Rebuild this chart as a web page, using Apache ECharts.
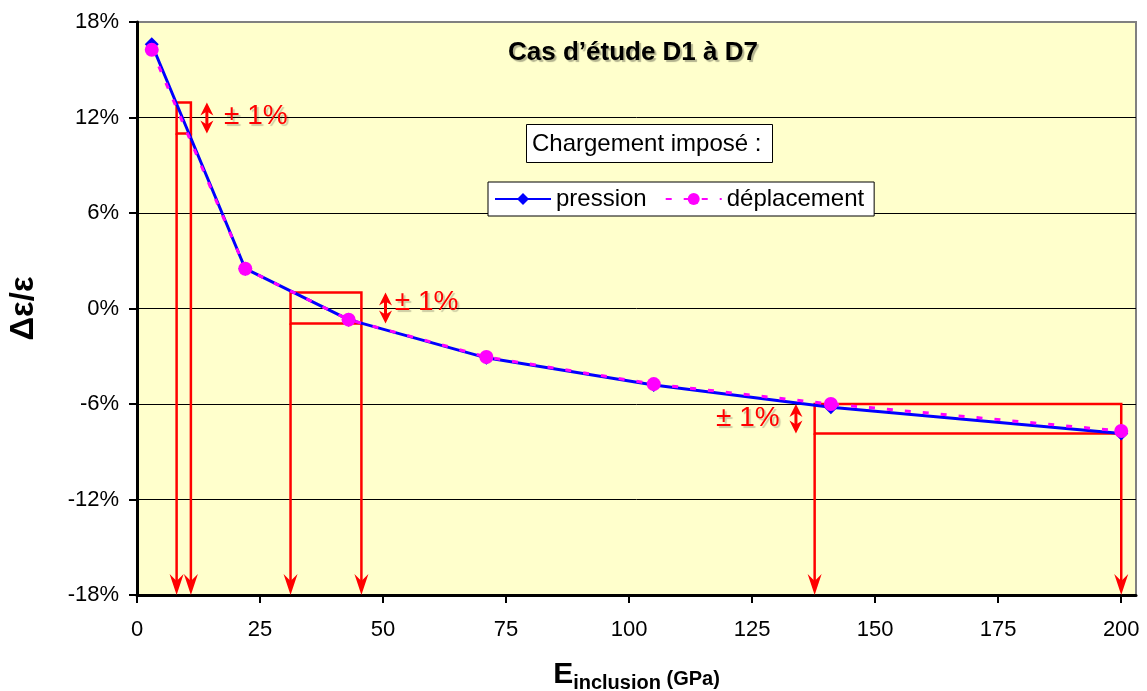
<!DOCTYPE html>
<html>
<head>
<meta charset="utf-8">
<script src="https://cdn.jsdelivr.net/npm/echarts@6/dist/echarts.min.js"></script>
<style>
  html, body { margin: 0; padding: 0; background: #ffffff; }
  #chart { width: 1147px; height: 691px; }
</style>
</head>
<body>
<div id="chart"></div>
<script>
// E inclusion (GPa) and relative error (%) for both loading cases
var eInclusion = [3, 22, 43, 71, 105, 141, 200];
var pression = [16.6, 2.5, -0.7, -3.1, -4.8, -6.2, -7.85];
var deplacement = [16.25, 2.5, -0.7, -3.05, -4.75, -6.0, -7.7];

var xTicks = [0, 25, 50, 75, 100, 125, 150, 175, 200];

// red "± 1%" boxes (data units): E range, strain range
var boxE0 = [8.05, 31.2, 137.7];
var boxE1 = [10.95, 45.6, 200];
var boxLow = [11.0, -0.95, -7.85];
var boxHigh = [12.95, 1.0, -6.0];
// double arrow position and label anchor
var arrowE = [14.2, 50.5, 133.9];
var labelE = [17.7, 52.4, 130.6];
var labelY = [12.1, 0.4, -6.9];
var labelText = '\u00b1 1%';

var yMin = -18;

var chart = echarts.init(document.getElementById('chart'));

var boxData = [];
for (var i = 0; i < boxE0.length; i++) {
  boxData.push([boxE0[i], boxE1[i], boxLow[i], boxHigh[i], arrowE[i], labelE[i], labelY[i]]);
}

var RED = '#ff0000';

function downHead(x, y) {
  // tip at (x, y), pointing down
  return [[x, y], [x - 7, y - 21], [x, y - 14], [x + 7, y - 21]];
}
function upHead(x, y) {
  return [[x, y], [x - 6.5, y + 13], [x, y + 9], [x + 6.5, y + 13]];
}
function dnHead(x, y) {
  return [[x, y], [x - 6.5, y - 13], [x, y - 9], [x + 6.5, y - 13]];
}

function renderBox(params, api) {
  var tl = api.coord([api.value(0), api.value(3)]);
  var br = api.coord([api.value(1), api.value(2)]);
  var base = api.coord([0, yMin])[1];
  var ax = api.coord([api.value(4), 0])[0];
  var lab = api.coord([api.value(5), api.value(6)]);
  var lineStyle = { stroke: RED, lineWidth: 2.5, fill: null };
  var kids = [
    { type: 'rect', shape: { x: tl[0], y: tl[1], width: br[0] - tl[0], height: br[1] - tl[1] }, style: lineStyle },
    { type: 'line', shape: { x1: tl[0], y1: br[1], x2: tl[0], y2: base - 14 }, style: lineStyle },
    { type: 'line', shape: { x1: br[0], y1: br[1], x2: br[0], y2: base - 14 }, style: lineStyle },
    { type: 'polygon', shape: { points: downHead(tl[0], base) }, style: { fill: RED } },
    { type: 'polygon', shape: { points: downHead(br[0], base) }, style: { fill: RED } },
    // double arrow
    { type: 'line', shape: { x1: ax, y1: tl[1] + 8, x2: ax, y2: br[1] - 8 }, style: { stroke: RED, lineWidth: 3 } },
    { type: 'polygon', shape: { points: upHead(ax, tl[1]) }, style: { fill: RED } },
    { type: 'polygon', shape: { points: dnHead(ax, br[1]) }, style: { fill: RED } },
    {
      type: 'text',
      x: lab[0], y: lab[1],
      style: {
        text: labelText,
        fill: RED,
        font: '28px "Liberation Sans", Arial, sans-serif',
        align: lab[0] < ax ? 'right' : 'left',
        verticalAlign: 'middle',
        textShadowColor: 'rgba(0,0,0,0.2)',
        textShadowOffsetX: 2,
        textShadowOffsetY: 2,
        textShadowBlur: 1
      }
    }
  ];
  return { type: 'group', children: kids };
}

var FONT = '"Liberation Sans", Arial, sans-serif';

var option = {
  animation: false,
  backgroundColor: '#ffffff',
  textStyle: { fontFamily: FONT },
  title: [
    {
      text: 'Cas d\u2019\u00e9tude D1 \u00e0 D7',
      left: 508,
      top: 40,
      padding: 0,
      textStyle: {
        fontFamily: FONT,
        fontSize: 26,
        fontWeight: 'bold',
        color: '#000000',
        textShadowColor: 'rgba(0,0,0,0.3)',
        textShadowOffsetX: 2,
        textShadowOffsetY: 2,
        textShadowBlur: 1
      }
    },
    {
      text: 'Chargement impos\u00e9 :',
      left: 526,
      top: 124,
      padding: [8, 11, 7, 6],
      backgroundColor: '#ffffff',
      borderColor: '#000000',
      borderWidth: 1,
      textStyle: { fontFamily: FONT, fontSize: 24, fontWeight: 'normal', color: '#000000' }
    }
  ],
  legend: {
    left: 488,
    top: 182,
    padding: [5, 10, 5, 6],
    itemGap: 18,
    itemWidth: 56,
    itemHeight: 15,
    backgroundColor: '#ffffff',
    borderColor: '#000000',
    borderWidth: 1,
    borderRadius: 0,
    textStyle: { fontFamily: FONT, fontSize: 24, color: '#000000' },
    data: ['pression', 'd\u00e9placement']
  },
  grid: {
    left: 137,
    right: 11,
    top: 22,
    bottom: 96,
    outerBoundsMode: 'none',
    containLabel: false,
    show: true,
    backgroundColor: '#ffffcc',
    borderColor: '#808080',
    borderWidth: 2
  },
  xAxis: {
    type: 'value',
    min: 0,
    max: 203,
    interval: 25,
    name: '{e|E}{s|inclusion}{g| (GPa)}',
    nameLocation: 'middle',
    nameGap: 65,
    nameTextStyle: {
      rich: {
        e: { fontFamily: FONT, fontSize: 30, fontWeight: 'bold', color: '#000', verticalAlign: 'bottom', padding: [0, 0, 3, 0] },
        s: { fontFamily: FONT, fontSize: 20, fontWeight: 'bold', color: '#000', verticalAlign: 'bottom' },
        g: { fontFamily: FONT, fontSize: 20, fontWeight: 'bold', color: '#000', verticalAlign: 'bottom', padding: [0, 0, 4, 0] }
      }
    },
    axisLine: { onZero: false, lineStyle: { color: '#000000', width: 3 } },
    axisTick: { show: true, inside: false, length: 8, lineStyle: { color: '#000', width: 2 }, customValues: xTicks },
    axisLabel: { fontFamily: FONT, fontSize: 22, color: '#000', margin: 24, customValues: xTicks },
    splitLine: { show: false }
  },
  yAxis: {
    type: 'value',
    min: yMin,
    max: 18,
    interval: 6,
    name: '\u0394\u03b5/\u03b5',
    nameLocation: 'middle',
    nameRotate: 90,
    nameGap: 97,
    nameTextStyle: { fontFamily: FONT, fontSize: 33, fontWeight: 'bold', color: '#000' },
    axisLine: { show: true, lineStyle: { color: '#000000', width: 3 } },
    axisTick: { show: true, inside: false, length: 8, lineStyle: { color: '#000', width: 2 } },
    axisLabel: {
      fontFamily: FONT, fontSize: 22, color: '#000', margin: 18,
      formatter: function (v) { return v + '%'; }
    },
    splitLine: {
      show: true,
      lineStyle: { color: ['#000', '#000', '#000', '#000', '#000', '#000', '#808080'], width: 1 }
    }
  },
  series: [
    {
      name: 'annotations',
      type: 'custom',
      z: 1,
      silent: true,
      renderItem: renderBox,
      encode: { x: [0, 1], y: [2, 3] },
      data: boxData
    },
    {
      name: 'pression',
      type: 'line',
      z: 3,
      data: eInclusion.map(function (e, i) { return [e, pression[i]]; }),
      symbol: 'diamond',
      symbolSize: 14,
      itemStyle: { color: '#0000ff' },
      lineStyle: { color: '#0000ff', width: 3 }
    },
    {
      name: 'd\u00e9placement',
      type: 'line',
      z: 4,
      data: eInclusion.map(function (e, i) { return [e, deplacement[i]]; }),
      symbol: 'circle',
      symbolSize: 14,
      itemStyle: { color: '#ff00ff' },
      lineStyle: { color: '#ff00ff', width: 3, type: [6, 12] }
    }
  ]
};

chart.setOption(option);
window.addEventListener('resize', function () {
  chart.resize();
});
</script>
</body>
</html>
